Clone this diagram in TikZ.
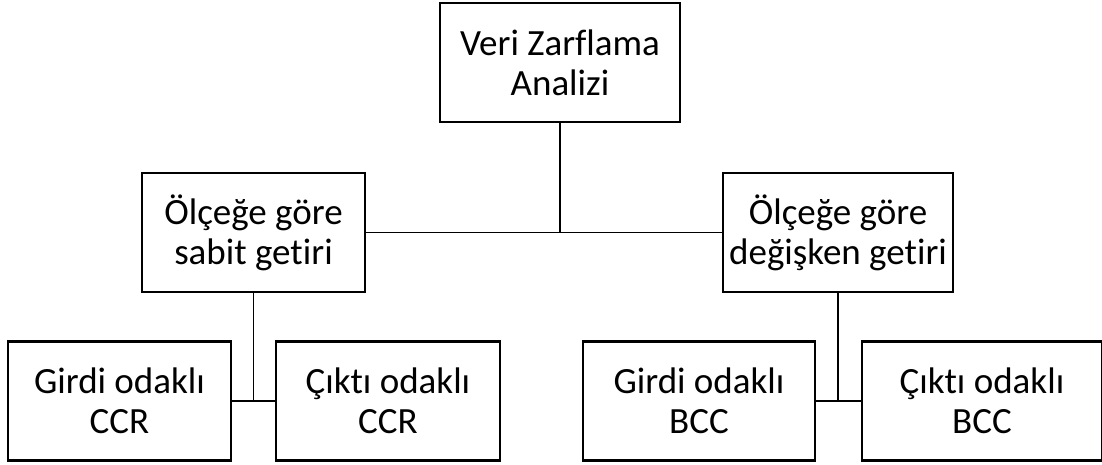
\documentclass[tikz,border=0pt]{standalone}
\usepackage{fontspec}
\setmainfont{Carlito}[Ligatures=NoCommon]
\usetikzlibrary{positioning}
\tikzset{
box/.style={draw, line width=2.6pt, align=center, font=\fontsize{37}{40}\selectfont, inner sep=0pt, minimum height=119pt}, % the framed boxes
link/.style={line width=1.4pt}, % the plain connectors
}

\begin{document}
\begin{tikzpicture}[x=1pt, y=-1pt]
  \useasboundingbox (0,0) rectangle (1102,464);
  % Boxes
  \node[box, minimum width=240pt] (dea) at (560,62.5) {Veri Zarflama\\Analizi};
  \node[box, minimum width=223pt] (crs) at (253.5,232.5) {Ölçeğe göre\\sabit getiri};
  \node[box, minimum width=230pt] (vrs) at (838,232.5) {Ölçeğe göre\\değişken getiri};
  \node[box, minimum width=223pt] (ccrin) at (119.5,401) {Girdi odaklı\\CCR};
  \node[box, minimum width=224pt] (ccrout) at (388,401) {Çıktı odaklı\\CCR};
  \node[box, minimum width=232pt] (bccin) at (699,401) {Girdi odaklı\\BCC};
  \node[box, minimum width=240pt] (bccout) at (982,401) {Çıktı odaklı\\BCC};

  % Connectors
  \draw[link] (crs.east) -- (vrs.west);
  \draw[link] (dea.south) -- (dea.south |- crs.east);
  \draw[link] (ccrin.east) -- (ccrout.west);
  \draw[link] (crs.south) -- (crs.south |- ccrin.east);
  \draw[link] (bccin.east) -- (bccout.west);
  \draw[link] (vrs.south) -- (vrs.south |- bccin.east);
\end{tikzpicture}
\end{document}
